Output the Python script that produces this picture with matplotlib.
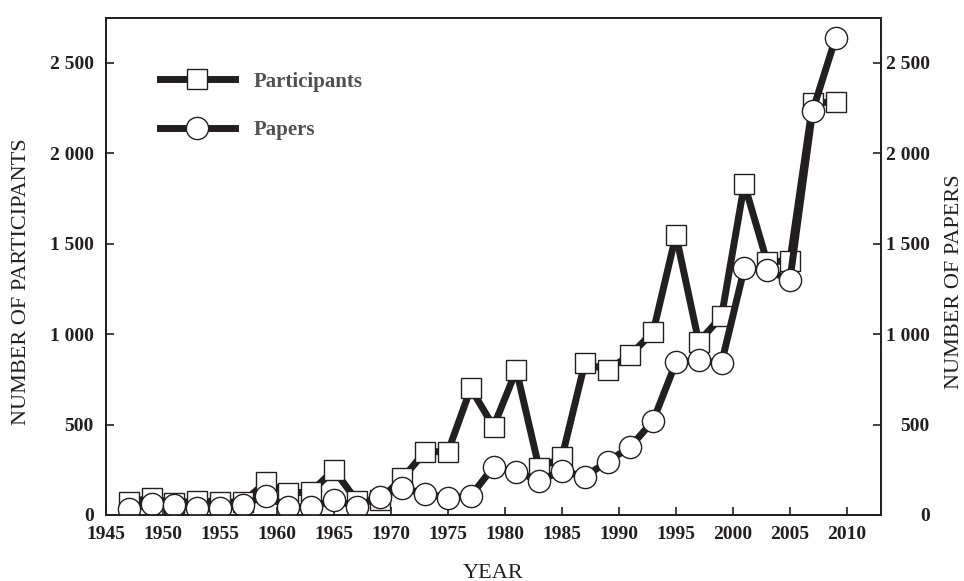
import matplotlib
matplotlib.use("Agg")
import matplotlib.pyplot as plt
from matplotlib.ticker import FuncFormatter

plt.rcParams['font.family'] = ['Liberation Serif', 'DejaVu Serif']

# data
years = [1947, 1949, 1951, 1953, 1955, 1957, 1959, 1961, 1963, 1965, 1967,
         1969, 1971, 1973, 1975, 1977, 1979, 1981, 1983, 1985, 1987, 1989,
         1991, 1993, 1995, 1997, 1999, 2001, 2003, 2005, 2007, 2009]
participants = [73, 93, 66, 79, 73, 70, 180, 120, 129, 250, 78,
                85, 202, 350, 350, 700, 488, 801, 258, 319, 838, 801,
                884, 1012, 1547, 957, 1097, 1829, 1398, 1405, 2275, 2284]
papers = [31, 62, 53, 36, 37, 57, 105, 44, 44, 83, 46,
          101, 150, 116, 96, 105, 267, 239, 190, 243, 212, 295,
          377, 521, 843, 855, 840, 1363, 1354, 1298, 2234, 2634]

ink = '#231f20'

def thousands(v, pos):
    return '{:,.0f}'.format(v).replace(',', ' ')

fig = plt.figure(figsize=(9.64, 5.81), dpi=100)
ax = fig.add_axes([0.110, 0.1136, 0.804, 0.855])

ax.plot(years, participants, '-s', color=ink, lw=5, ms=14.5,
        mfc='white', mec=ink, mew=1.0, label='Participants')
ax.set_xlim(1945, 2013)
ax.set_ylim(0, 2745)
ax.set_xticks(range(1945, 2011, 5))
ax.set_yticks(range(0, 2501, 500))
ax.yaxis.set_major_formatter(FuncFormatter(thousands))

ax2 = ax.twinx()
ax2.plot(years, papers, '-o', color=ink, lw=5, ms=16,
         mfc='white', mec=ink, mew=1.0, label='Papers')
ax2.set_ylim(0, 2745)
ax2.set_yticks(range(0, 2501, 500))
ax2.yaxis.set_major_formatter(FuncFormatter(thousands))

for a in (ax, ax2):
    a.tick_params(direction='in', length=6, width=1.2, color=ink)
    for s in a.spines.values():
        s.set_linewidth(1.3)
        s.set_color(ink)
    for lab in a.get_xticklabels() + a.get_yticklabels():
        lab.set_fontweight('bold')
        lab.set_fontsize(14)
        lab.set_color(ink)
ax.tick_params(axis='y', pad=9)
ax.tick_params(axis='x', pad=8)
# right-hand labels are right-aligned in the original
ax2.tick_params(axis='y', pad=35)
for lab in ax2.get_yticklabels():
    lab.set_horizontalalignment('right')

ax.set_xlabel('YEAR', fontsize=16, color=ink, labelpad=15)
ax.set_ylabel('NUMBER OF PARTICIPANTS', fontsize=16, color=ink)
ax.yaxis.set_label_coords(-0.097, 0.47)
ax2.set_ylabel('NUMBER OF PAPERS', fontsize=16, color=ink)
ax2.yaxis.set_label_coords(1.083, 0.47)

h1, l1 = ax.get_legend_handles_labels()
h2, l2 = ax2.get_legend_handles_labels()
leg = ax2.legend(h1 + h2, l1 + l2, loc='upper left', bbox_to_anchor=(0.045, 0.93),
                 frameon=False, handlelength=3.6, labelspacing=1.35,
                 handletextpad=0.9, prop={'weight': 'bold', 'size': 15})
for t in leg.get_texts():
    t.set_color('#505050')

fig.savefig('out.png', dpi=100)
